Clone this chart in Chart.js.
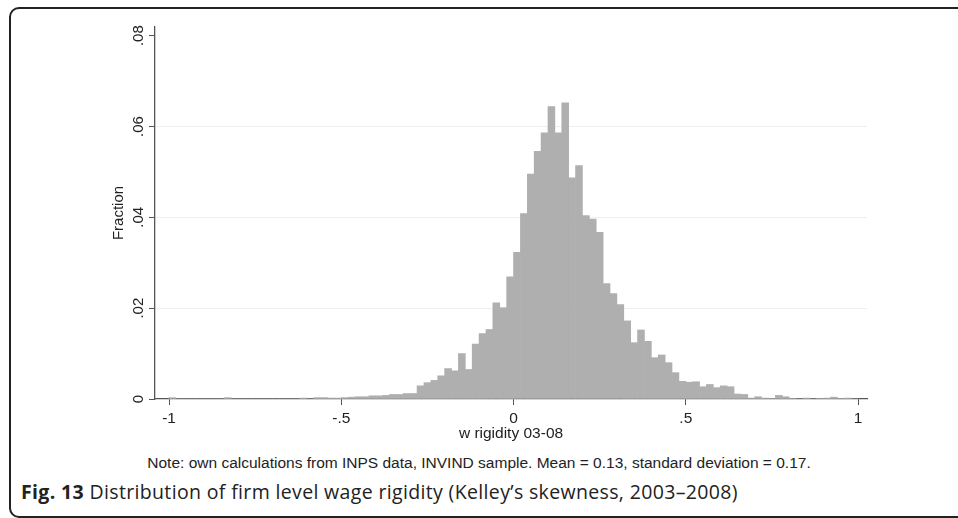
<!DOCTYPE html>
<html>
<head>
<meta charset="utf-8">
<script src="https://cdn.jsdelivr.net/npm/chart.js@4.4.1/dist/chart.umd.min.js"></script>
<style>
  html, body { margin: 0; padding: 0; background: #fff; }
  body { width: 958px; height: 518px; position: relative; overflow: hidden; }
  #frame {
    position: absolute; left: 9px; top: 7px; width: 1000px; height: 511px;
    box-sizing: border-box; border: 2px solid #222; border-radius: 10px;
  }
  #chart-box { position: absolute; left: 0; top: 0; width: 958px; height: 450px; }
  #note {
    position: absolute; left: 0; top: 454px; width: 958px; text-align: center;
    font-family: "Liberation Sans", Arial, sans-serif; font-size: 15.5px; color: #222;
  }
  #caption {
    position: absolute; left: 21px; top: 478px; white-space: nowrap;
    font-family: "Open Sans", sans-serif; font-size: 19.5px; letter-spacing: 0.35px; color: #222;
  }
  #caption b { font-weight: 700; }
</style>
</head>
<body>
<div id="frame"></div>
<div id="chart-box"><canvas id="hist" width="958" height="450"></canvas></div>
<div id="note">Note: own calculations from INPS data, INVIND sample. Mean = 0.13, standard deviation = 0.17.</div>
<div id="caption"><b>Fig. 13</b> Distribution of firm level wage rigidity (Kelley’s skewness, 2003–2008)</div>

<script>
// ===== DADOS DO HISTOGRAMA =====

// bins de largura 0.02 entre -1 e 1
const binStart = -1;
const binWidth = 0.02;

// fração de firmas em cada bin
const fractions = [
    0.0003, 0, 0, 0, 0, 0, 0, 0, 0.0003, 0,
    0, 0, 0, 0, 0, 0, 0, 0, 0, 0.0002,
    0, 0.0003, 0.0003, 0.0002, 0.0002, 0.0003, 0.0004, 0.0005, 0.0005, 0.0007,
    0.0007, 0.0008, 0.0010, 0.0010, 0.0012, 0.0012, 0.0029, 0.0036, 0.0041, 0.0051,
    0.0067, 0.0062, 0.0100, 0.0065, 0.0121, 0.0144, 0.0153, 0.0212, 0.0201, 0.0269,
    0.0323, 0.0408, 0.0495, 0.0545, 0.0586, 0.0644, 0.0586, 0.0652, 0.0487, 0.0514,
    0.0404, 0.0396, 0.0367, 0.0254, 0.0232, 0.0208, 0.0172, 0.0124, 0.0152, 0.0127,
    0.0091, 0.0097, 0.0080, 0.0058, 0.0039, 0.0037, 0.0038, 0.0027, 0.0032, 0.0025,
    0.0029, 0.0027, 0.0011, 0.0010, 0.0002, 0.0005, 0.0002, 0.0001, 0.0008, 0.0005,
    0.0001, 0, 0.0002, 0, 0.0001, 0.0002, 0.0004, 0.0001, 0.0002, 0
];

const xTicks = [-1, -0.5, 0, 0.5, 1];
const xTickLabels = ['-1', '-.5', '0', '.5', '1'];
const yTicks = [0, 0.02, 0.04, 0.06, 0.08];
const yTickLabels = ['0', '.02', '.04', '.06', '.08'];

const xTitle = 'w rigidity 03-08';
const yTitle = 'Fraction';

// ===== MONTAGEM DOS PONTOS =====

const points = fractions.map((v, i) => ({ x: binStart + binWidth * (i + 0.5), y: v }));

const labelFor = (values, labels, v) => {
    const idx = values.findIndex(t => Math.abs(t - v) < 1e-9);
    return idx >= 0 ? labels[idx] : '';
};

// rótulos do eixo y girados (o Chart.js não gira ticks verticais)
const yLabelPlugin = {
    id: 'yRotatedLabels',
    afterDraw(chart) {
        const { ctx, scales: { y } } = chart;
        ctx.save();
        ctx.font = '15px "Liberation Sans", Arial, sans-serif';
        ctx.fillStyle = '#222';
        ctx.textAlign = 'center';
        ctx.textBaseline = 'middle';
        yTicks.forEach((v, i) => {
            const py = y.getPixelForValue(v);
            ctx.save();
            ctx.translate(139, py);
            ctx.rotate(-Math.PI / 2);
            ctx.fillText(yTickLabels[i], 0, 0);
            ctx.restore();
        });
        ctx.restore();
    }
};

// ===== GRÁFICO =====

const ctx = document.getElementById('hist');
new Chart(ctx, {
    type: 'bar',
    data: {
        datasets: [{
            label: yTitle,
            data: points,
            backgroundColor: '#afafaf',
            borderWidth: 0,
            barPercentage: 1,
            categoryPercentage: 1
        }]
    },
    options: {
        responsive: false,
        animation: false,
        events: [],
        layout: { padding: { top: 27, right: 91, left: 0, bottom: 0 } },
        plugins: { legend: { display: false }, tooltip: { enabled: false } },
        scales: {
            x: {
                type: 'linear',
                offset: false,
                min: -1.0407,
                max: 1.026,
                afterFit: (scale) => { scale.height = 51; },
                afterBuildTicks: (scale) => { scale.ticks = xTicks.map(v => ({ value: v })); },
                border: { color: '#555', width: 1.3 },
                grid: { offset: false, color: 'rgba(0,0,0,0)', tickColor: '#555', tickLength: 6, drawOnChartArea: false },
                ticks: {
                    padding: 4,
                    color: '#222',
                    font: { family: '"Liberation Sans", Arial, sans-serif', size: 15.5 },
                    callback: (v) => labelFor(xTicks, xTickLabels, v),
                    maxRotation: 0, minRotation: 0, autoSkip: false
                },
                title: {
                    display: true, text: xTitle, color: '#222',
                    font: { family: '"Liberation Sans", Arial, sans-serif', size: 15.5 },
                    padding: { top: 0, bottom: 7 }
                }
            },
            y: {
                min: 0,
                max: 0.0819,
                afterFit: (scale) => { scale.width = 155; },
                afterBuildTicks: (scale) => { scale.ticks = yTicks.map(v => ({ value: v })); },
                border: { color: '#555', width: 1.3 },
                grid: {
                    color: (c) => (c.tick && c.tick.value > 0 && c.tick.value < 0.079) ? '#efefef' : 'rgba(0,0,0,0)',
                    tickColor: '#555',
                    tickLength: 6
                },
                ticks: { display: false },
                title: {
                    display: true, text: yTitle, color: '#222',
                    font: { family: '"Liberation Sans", Arial, sans-serif', size: 15 },
                    padding: { top: 110, bottom: 0 }
                }
            }
        }
    },
    plugins: [yLabelPlugin]
});
</script>
</body>
</html>
